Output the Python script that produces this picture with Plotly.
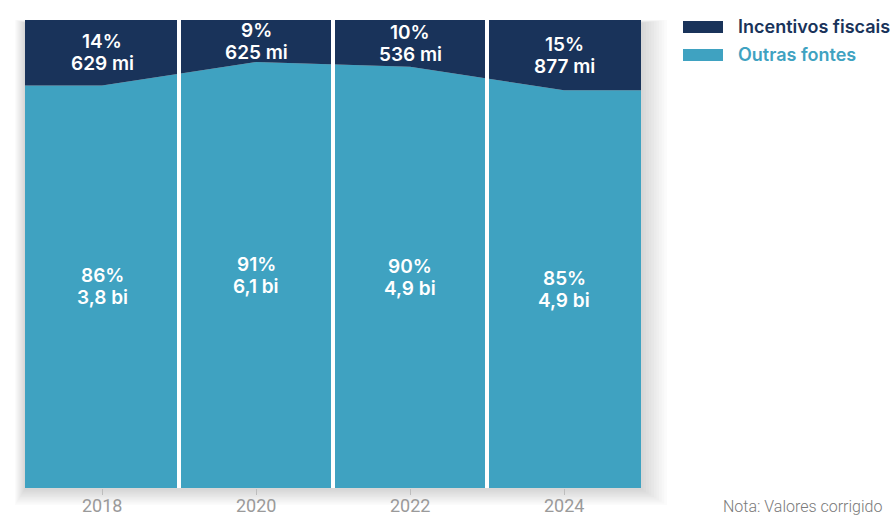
import plotly.graph_objects as go

years = [2018, 2020, 2022, 2024]
incentivos_pct = [14, 9, 10, 15]
outras_pct = [86, 91, 90, 85]
incentivos_val = ["629 mi", "625 mi", "536 mi", "877 mi"]
outras_val = ["3,8 bi", "6,1 bi", "4,9 bi", "4,9 bi"]
series_names = ["Incentivos fiscais", "Outras fontes"]

DARK = "#19335a"
LIGHT = "#3fa2c1"

W, H = 893, 518
L, R, T, B = 25, 641, 20, 488

# extend flat to the edges of the first/last column
x_ext = [years[0] - 1] + years + [years[-1] + 1]
inc_ext = [incentivos_pct[0]] + incentivos_pct + [incentivos_pct[-1]]
out_ext = [outras_pct[0]] + outras_pct + [outras_pct[-1]]

fig = go.Figure()
fig.add_trace(go.Scatter(x=x_ext, y=out_ext, name=series_names[1], stackgroup="s",
                         mode="none", fillcolor=LIGHT, line=dict(width=0), showlegend=False,
                         hoverinfo="skip"))
fig.add_trace(go.Scatter(x=x_ext, y=inc_ext, name=series_names[0], stackgroup="s",
                         mode="none", fillcolor=DARK, line=dict(width=0), showlegend=False,
                         hoverinfo="skip"))

def px_x(p):
    return (p - L) / (R - L)

def px_y(p):
    return (B - p) / (B - T)

shapes = []
# soft shadow around plot area (mostly right and bottom)
for i in range(1, 11):
    shapes.append(dict(type="rect", xref="paper", yref="paper", layer="below",
                       x0=px_x(25 - i * 1.0), x1=px_x(641 + i * 2.6),
                       y0=px_y(488 + 1 + i * 1.6), y1=px_y(20 + 3 - i * 0.3),
                       fillcolor="rgba(0,0,0,0.015)", line=dict(width=0)))
# white separators between columns
for i in range(len(years) - 1):
    xm = (years[i] + years[i + 1]) / 2
    shapes.append(dict(type="line", xref="x", yref="paper", x0=xm, x1=xm, y0=0, y1=1,
                       line=dict(color="white", width=4), layer="above"))
# legend squares
for j, col in enumerate([DARK, LIGHT]):
    y0 = 21 + j * 28
    shapes.append(dict(type="rect", xref="paper", yref="paper",
                       x0=px_x(683), x1=px_x(723), y0=px_y(y0 + 12), y1=px_y(y0),
                       fillcolor=col, line=dict(width=0)))

annotations = []
FONT = "Inter, Noto Sans, sans-serif"
for i, yr in enumerate(years):
    out_c = outras_pct[i] / 2
    inc_c = outras_pct[i] + incentivos_pct[i] / 2
    for yc, pct, val in [(out_c, outras_pct[i], outras_val[i]), (inc_c, incentivos_pct[i], incentivos_val[i])]:
        annotations.append(dict(x=yr, y=yc, xref="x", yref="y", text=f"{pct}%", showarrow=False,
                                yshift=11, font=dict(family=FONT, size=19, color="white", weight=600)))
        annotations.append(dict(x=yr, y=yc, xref="x", yref="y", text=val, showarrow=False,
                                yshift=-11, font=dict(family=FONT, size=19, color="white", weight=600)))
    # x tick label
    annotations.append(dict(x=yr, y=px_y(505), xref="x", yref="paper", text=str(yr), showarrow=False,
                            yanchor="middle",
                            font=dict(family="Roboto, sans-serif", size=18, color="#9a9a9a")))

for j, (name, col) in enumerate(zip(series_names, [DARK, LIGHT])):
    annotations.append(dict(x=px_x(736), y=px_y(27 + j * 28), xref="paper", yref="paper",
                            xanchor="left", yanchor="middle", text=name, showarrow=False,
                            font=dict(family=FONT, size=18, color=col, weight=600)))

annotations.append(dict(x=px_x(721), y=px_y(506), xref="paper", yref="paper",
                        xanchor="left", yanchor="middle", text="Nota: Valores corrigido",
                        showarrow=False,
                        font=dict(family="Roboto, sans-serif", size=16, color="#7a7a7a", weight=300)))

fig.update_layout(
    width=W, height=H,
    margin=dict(l=L, r=W - R, t=T, b=H - B, autoexpand=False),
    paper_bgcolor="white", plot_bgcolor="rgba(0,0,0,0)",
    shapes=shapes, annotations=annotations,
    showlegend=False, hovermode=False,
    xaxis=dict(range=[years[0] - 1, years[-1] + 1], tickvals=years, showticklabels=False,
               showgrid=False, zeroline=False, showline=False, ticks="outside", ticklen=6,
               tickcolor="#bdbdbd", tickwidth=1, automargin=False, fixedrange=True),
    yaxis=dict(range=[0, 100], visible=False, fixedrange=True, automargin=False),
)

fig.write_html("out.html", config={"displayModeBar": False, "staticPlot": True},
               post_script="document.body.style.margin='0';document.body.style.overflow='hidden';")
